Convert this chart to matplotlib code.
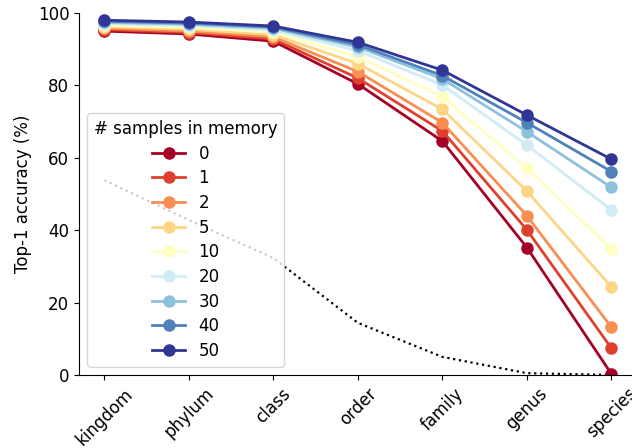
import numpy as np
import matplotlib
matplotlib.use("Agg")
import matplotlib.pyplot as plt

levels = ["kingdom", "phylum", "class", "order", "family", "genus", "species"]
samples = [0, 1, 2, 5, 10, 20, 30, 40, 50]
acc = {
    0:  [95.0, 94.2, 92.2, 80.4, 64.6, 35.2, 0.3],
    1:  [95.4, 94.6, 92.8, 82.0, 67.4, 40.1, 7.4],
    2:  [95.8, 95.0, 93.4, 83.8, 69.7, 44.0, 13.2],
    5:  [96.2, 95.5, 94.0, 86.0, 73.4, 50.8, 24.3],
    10: [96.6, 96.0, 94.7, 87.9, 76.9, 57.1, 34.8],
    20: [97.0, 96.5, 95.3, 89.6, 80.1, 63.5, 45.6],
    30: [97.4, 96.9, 95.8, 90.6, 81.8, 67.2, 51.8],
    40: [97.7, 97.2, 96.1, 91.2, 82.7, 69.7, 56.2],
    50: [98.0, 97.5, 96.4, 91.9, 84.2, 71.8, 59.6],
}
baseline = [53.8, 42.8, 32.3, 14.4, 5.0, 0.5, 0.0]

plt.rcParams["font.size"] = 12
fig = plt.figure(figsize=(6.32, 4.48), dpi=100)
ax = fig.add_axes([0.125, 0.163, 0.8825, 0.808])

x = np.arange(len(levels))
ax.plot(x, baseline, color="black", linestyle=":", linewidth=1.6)
colors = plt.cm.RdYlBu(np.linspace(0, 1, len(samples)))
for c, s in zip(colors, samples):
    ax.plot(x, acc[s], marker="o", markersize=8, linewidth=2, color=c, label=str(s))

ax.set_xticks(x)
ax.set_xticklabels(levels, rotation=45)
ax.set_xlim(-0.3, 6.3)
ax.set_ylim(0, 100)
ax.set_ylabel("Top-1 accuracy (%)")
ax.spines["top"].set_visible(False)
ax.spines["right"].set_visible(False)
ax.legend(title="# samples in memory", loc="lower left", labelspacing=0.4)

fig.savefig("out.png", dpi=100)
